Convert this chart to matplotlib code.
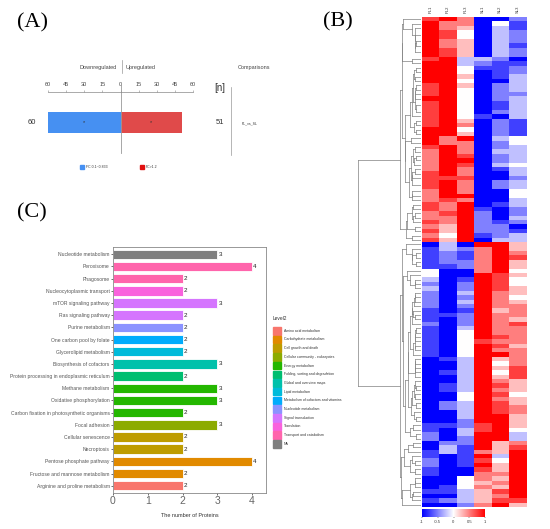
import numpy as np
import matplotlib
matplotlib.use("Agg")
import matplotlib.pyplot as plt
from matplotlib.colors import LinearSegmentedColormap
from matplotlib.patches import Rectangle

plt.rcParams['font.family'] = ['Liberation Sans', 'DejaVu Sans']

W, H = 550, 529

# ---------------- data ----------------
# (A) up/down counts
n_down = 60
n_up = 51
comparison = "PL_vs_SL"
a_ticks = [-60, -45, -30, -15, 0, 15, 30, 45, 60]

# (B) heatmap, scaled values coded 0..8 (0 = -1, 4 = 0, 8 = 1), columns in order
samples = ["PL1", "PL2", "PL3", "SL1", "SL2", "SL3"]
heat_rows = [
    "786002", "866041", "865031", "874032", "874032", "865032", "865031", "875032",
    "875032", "783320", "883211", "884112", "884012", "885013", "884003", "785023",
    "784023", "784022", "884023", "784013", "784013", "784023", "784103", "785021",
    "786021", "884021", "885021", "868034", "866024", "786023", "686033", "687023",
    "688023", "687034", "686013", "786003", "777002", "786023", "786023", "686004",
    "688004", "676003", "768013", "768102", "678202", "668203", "768212", "658220",
    "758221", "648123", "758033",
    "030885", "132685", "121686", "121687", "122685", "112685", "400684", "400875",
    "301874", "202874", "302875", "203865", "202864", "203865", "202866", "101856",
    "112866", "102865", "202867", "103866", "104866", "104876", "104766", "104875",
    "104866", "104886", "013856", "003846", "003857", "013847", "003857", "003865",
    "013875", "013865", "004874", "004865", "023875", "023876", "003876", "003885",
    "002885", "112785", "103784", "203883", "202883", "022856", "031857", "131658",
    "101838", "201748", "201858", "100758", "100668", "004658", "004568", "014658",
    "113578", "003568", "123577", "002685",
]

# (C) KEGG pathways, top to bottom
pathways = [
    "Nucleotide metabolism", "Peroxisome", "Phagosome", "Nucleocytoplasmic transport",
    "mTOR signaling pathway", "Ras signaling pathway", "Purine metabolism",
    "One carbon pool by folate", "Glycerolipid metabolism", "Biosynthesis of cofactors",
    "Protein processing in endoplasmic reticulum", "Methane metabolism",
    "Oxidative phosphorylation", "Carbon fixation in photosynthetic organisms",
    "Focal adhesion", "Cellular senescence", "Necroptosis", "Pentose phosphate pathway",
    "Fructose and mannose metabolism", "Arginine and proline metabolism",
]
counts = [3, 4, 2, 2, 3, 2, 2, 2, 2, 3, 2, 3, 3, 2, 3, 2, 2, 4, 2, 2]
level2_of = [13, 12, 12, 11, 10, 10, 9, 8, 7, 6, 5, 4, 4, 4, 3, 2, 2, 1, 1, 0]
level2_names = [
    "Amino acid metabolism", "Carbohydrate metabolism", "Cell growth and death",
    "Cellular community - eukaryotes", "Energy metabolism",
    "Folding, sorting and degradation", "Global and overview maps", "Lipid metabolism",
    "Metabolism of cofactors and vitamins", "Nucleotide metabolism",
    "Signal transduction", "Translation", "Transport and catabolism", "NA",
]
level2_colors = [
    "#F8766D", "#E18A00", "#BE9C00", "#8CAB00", "#24B700", "#00BE70", "#00C1AB",
    "#00BBDA", "#00ACFC", "#8B93FF", "#D575FE", "#F962DD", "#FF65AC", "#7F7F7F",
]


def fx(x):
    return x / W


def fy(y):
    return 1 - y / H


fig = plt.figure(figsize=(5.5, 5.29), dpi=100)

# ---------------- panel labels ----------------
for lab, x, y in [("(A)", 17, 23), ("(B)", 323, 22), ("(C)", 17, 213)]:
    fig.text(fx(x), fy(y), lab, family="Liberation Serif", fontsize=16,
             va="center", ha="left")

# ---------------- (A) ----------------
axA = fig.add_axes([fx(48), fy(153), fx(193) - fx(48), (153 - 92) / H])
axA.barh([0], [-n_down], height=0.7, color="#4690f2", left=0)
axA.barh([0], [n_up], height=0.7, color="#e04a4a", left=0)
axA.text(-n_down / 2, 0, "*", ha="center", va="center", fontsize=4, color="#333333")
axA.text(n_up / 2, 0, "*", ha="center", va="center", fontsize=4, color="#333333")
axA.set_xlim(-60, 60)
axA.set_ylim(-1, 1)
axA.axvline(0, ymin=0, ymax=1.12, color="#999999", lw=0.6, clip_on=False)
for s in ["right", "bottom", "left"]:
    axA.spines[s].set_visible(False)
axA.spines["top"].set_color("#888888")
axA.spines["top"].set_linewidth(0.5)
axA.xaxis.tick_top()
axA.set_xticks(a_ticks)
axA.set_xticklabels([str(abs(t)) for t in a_ticks])
axA.tick_params(axis="x", labelsize=4, colors="#888888", length=1.5, width=0.4,
                pad=2, labelcolor="#444444")
axA.set_yticks([])

fig.text(fx(117), fy(67), "Downregulated", fontsize=4, ha="right", va="center", color="#444444")
fig.text(fx(126), fy(67), "Upregulated", fontsize=4, ha="left", va="center", color="#444444")
fig.add_artist(plt.Line2D([fx(122), fx(122)], [fy(60), fy(73)], color="#999999", lw=0.5))
fig.text(fx(254), fy(67), "Comparisons", fontsize=4, ha="center", va="center", color="#444444")
fig.text(fx(36), fy(123), str(n_down), fontsize=5.5, ha="right", va="center", color="#333333")
fig.text(fx(220), fy(123), str(n_up), fontsize=5.5, ha="center", va="center", color="#333333")
fig.text(fx(220), fy(88), "[n]", fontsize=7, ha="center", va="center", color="#333333")
fig.add_artist(plt.Line2D([fx(231), fx(231)], [fy(87), fy(155)], color="#999999", lw=0.5))
fig.text(fx(250), fy(123), comparison, fontsize=2.5, ha="center", va="center", color="#333333")
fig.add_artist(Rectangle((fx(80), fy(169)), fx(4), 4 / H, color="#4690f2"))
fig.text(fx(86), fy(166.5), "FC 0.1~0.833", fontsize=2.5, ha="left", va="center", color="#333333")
fig.add_artist(Rectangle((fx(140), fy(169)), fx(4), 4 / H, color="#e01010"))
fig.text(fx(146), fy(166.5), "FC>1.2", fontsize=2.5, ha="left", va="center", color="#333333")

# ---------------- (C) ----------------
axC = fig.add_axes([fx(113), fy(493), fx(266) - fx(113), (493 - 247) / H])
ypos = np.arange(len(pathways))[::-1]
bar_colors = [level2_colors[k] for k in level2_of]
axC.barh(ypos, counts, height=0.78, color=bar_colors, edgecolor="white", linewidth=0.6)
for y, c in zip(ypos, counts):
    axC.text(c + 0.03, y, str(c), fontsize=4.5, ha="left", va="center", color="#222222")
axC.set_xlim(0, 4.4)
axC.set_ylim(-0.6, len(pathways) - 0.4)
axC.set_yticks(ypos)
axC.set_yticklabels(pathways)
axC.set_xticks([0, 1, 2, 3, 4])
axC.tick_params(axis="y", labelsize=3.6, length=1.5, width=0.4, pad=1, labelcolor="#555555")
axC.tick_params(axis="x", labelsize=7.5, length=1.5, width=0.4, pad=1, labelcolor="#666666")
axC.set_xlabel("The number of Proteins", fontsize=4, color="#333333", labelpad=5)
for s in axC.spines.values():
    s.set_color("#888888")
    s.set_linewidth(0.6)

# legend for Level2
fig.text(fx(273), fy(318), "Level2", fontsize=3.5, ha="left", va="center", color="#333333")
for i, (nm, col) in enumerate(zip(level2_names, level2_colors)):
    yy = 327 + i * 8.7
    fig.add_artist(Rectangle((fx(273), fy(yy + 7.5)), fx(7.5), 7.5 / H, color=col))
    fig.text(fx(284), fy(yy + 3.75), nm, fontsize=2.5, ha="left", va="center", color="#333333")

# ---------------- (B) heatmap ----------------
vals = np.array([[int(ch) for ch in r] for r in heat_rows], dtype=float)
vals = (vals - 4) / 4.0
nr, nc = vals.shape
cmap = LinearSegmentedColormap.from_list("bwr2", ["#0000ff", "#ffffff", "#ff0000"])

axH = fig.add_axes([fx(422), fy(507), fx(526) - fx(422), (507 - 17) / H])
im = axH.imshow(vals, cmap=cmap, vmin=-1, vmax=1, aspect="auto",
                extent=(0, nc, nr, 0), interpolation="nearest")
axH.set_xticks([])
axH.set_yticks([])
for s in axH.spines.values():
    s.set_visible(False)
for j, nm in enumerate(samples):
    axH.text(j + 0.5, -0.8, nm, rotation=90, fontsize=3, ha="center", va="bottom",
             color="#333333")

# dendrogram: agglomerative average linkage merging neighbouring clusters
clusters = [{"m": [i], "y": i + 0.5, "h": 0.0} for i in range(nr)]
segs = []
while len(clusters) > 1:
    best, bi = None, 0
    for i in range(len(clusters) - 1):
        a = vals[clusters[i]["m"]]
        b = vals[clusters[i + 1]["m"]]
        d = np.sqrt(((a[:, None, :] - b[None, :, :]) ** 2).sum(-1)).mean()
        if best is None or d < best:
            best, bi = d, i
    ca, cb = clusters[bi], clusters[bi + 1]
    h = max(best, ca["h"], cb["h"])
    segs.append(([ca["h"], h], [ca["y"], ca["y"]]))
    segs.append(([h, h], [ca["y"], cb["y"]]))
    segs.append(([cb["h"], h], [cb["y"], cb["y"]]))
    clusters[bi:bi + 2] = [{"m": ca["m"] + cb["m"], "y": (ca["y"] + cb["y"]) / 2, "h": h}]
hmax = clusters[0]["h"]

axD = fig.add_axes([fx(358), fy(507), fx(421) - fx(358), (507 - 17) / H])
for xs, ys in segs:
    axD.plot(xs, ys, color="#808080", lw=0.5)
axD.set_xlim(hmax, 0)
axD.set_ylim(nr, 0)
axD.axis("off")

# colour bar
axCB = fig.add_axes([fx(422), fy(517), fx(485) - fx(422), 8 / H])
cb = fig.colorbar(im, cax=axCB, orientation="horizontal", ticks=[-1, -0.5, 0, 0.5, 1])
cb.outline.set_visible(False)
cb.ax.tick_params(labelsize=3, length=1, width=0.3, pad=1, labelcolor="#333333")
cb.ax.set_xticklabels(["-1", "-0.5", "0", "0.5", "1"])

fig.savefig("out.png", dpi=100)
